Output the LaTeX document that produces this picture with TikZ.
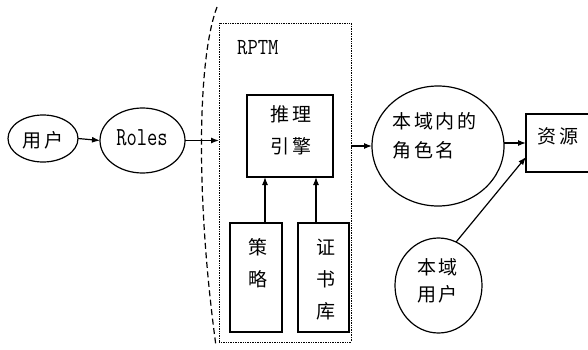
\documentclass[tikz,border=0pt]{standalone}
\usepackage{fontspec}
\usepackage{graphicx}
\newfontfamily\cjk[LetterSpace=15]{Noto Sans CJK SC}
\usetikzlibrary{shapes.geometric,arrows.meta}
\tikzset{
  shp/.style={draw, line width=1.2pt, inner sep=0pt, outer sep=0pt},
  ell/.style={shp, ellipse},
  rbox/.style={shp, rectangle},
  arr/.style={line width=1.2pt, -{Latex[length=8pt,width=6pt]}},
  cjktext/.style={font=\cjk\fontsize{19}{32}\selectfont, inner sep=0pt, align=center},
  latin/.style={font=\ttfamily\fontsize{20}{22}\selectfont, inner sep=0pt},
}
\begin{document}
\begin{tikzpicture}[x=1pt,y=-1pt]
\useasboundingbox[fill=white] (0,0) rectangle (588,350);
% shapes
\node[ell, minimum width=70pt, minimum height=47pt] (yonghu) at (43,138.5) {};
\node[ell, minimum width=85pt, minimum height=65pt] (roles) at (142.5,140.5) {};
\node[rbox, draw=none, minimum width=132pt, minimum height=319pt] (frame) at (285,182.5) {};
\draw[line width=0.7pt, densely dotted] (frame.south west) rectangle (frame.north east);
\node[rbox, minimum width=86pt, minimum height=82pt] (tuili) at (290,136) {};
\node[rbox, minimum width=52pt, minimum height=109pt] (celue) at (256,277.5) {};
\node[rbox, minimum width=51pt, minimum height=109pt] (zheng) at (323.5,277.5) {};
\node[ell, minimum width=132pt, minimum height=120pt] (juese) at (438,146) {};
\node[rbox, minimum width=66pt, minimum height=58pt] (ziyuan) at (559,143) {};
\node[ell, minimum width=87pt, minimum height=95pt] (benyu) at (438.5,285.5) {};
% dashed boundary
\coordinate (dtop) at (217,7);
\coordinate (dbot) at (216,346);
\draw[line width=1.2pt, dash pattern=on 6pt off 3.5pt] (dtop) .. controls (197,60) and (196,200) .. (dbot);
% texts
\node[cjktext] (tyonghu) at (43,140) {用户};
\node[latin, anchor=base] (troles) at (142,145) {\scalebox{1}[1.3]{Roles}};
\node[latin, anchor=base west] (trptm) at (237,55) {\scalebox{1}[1.15]{RPTM}};
\node[cjktext] (ttuili) at (291,130.5) {推理\\引擎};
\node[cjktext] (tcelue) at (258,263) {策\\略};
\node[cjktext] (tzheng) at (326,279.5) {证\\书\\库};
\node[cjktext, align=left, anchor=west, font=\cjk\fontsize{19}{29}\selectfont] (tjuese) at (392,135.5) {本域内的\\角色名};
\node[cjktext] (tziyuan) at (558,136) {资源};
\node[cjktext, font=\cjk\fontsize{19}{27}\selectfont] (tbenyu) at (437.5,280.5) {本域\\用户};
% connectors
\draw[arr] (yonghu.east) -- (roles.west);
\draw[arr] (roles.east) -- (roles.east -| frame.west);
\draw[arr] ([xshift=9pt]celue.north) -- ([xshift=9pt]celue.north |- tuili.south);
\draw[arr] ([xshift=-7.5pt]zheng.north) -- ([xshift=-7.5pt]zheng.north |- tuili.south);
\draw[arr] (frame.east |- juese.west) -- (juese.west);
\draw[arr] (ziyuan.west -| juese.east) -- (ziyuan.west);
\draw[arr] (benyu.68) -- ([yshift=-14pt]ziyuan.west);
\end{tikzpicture}
\end{document}
